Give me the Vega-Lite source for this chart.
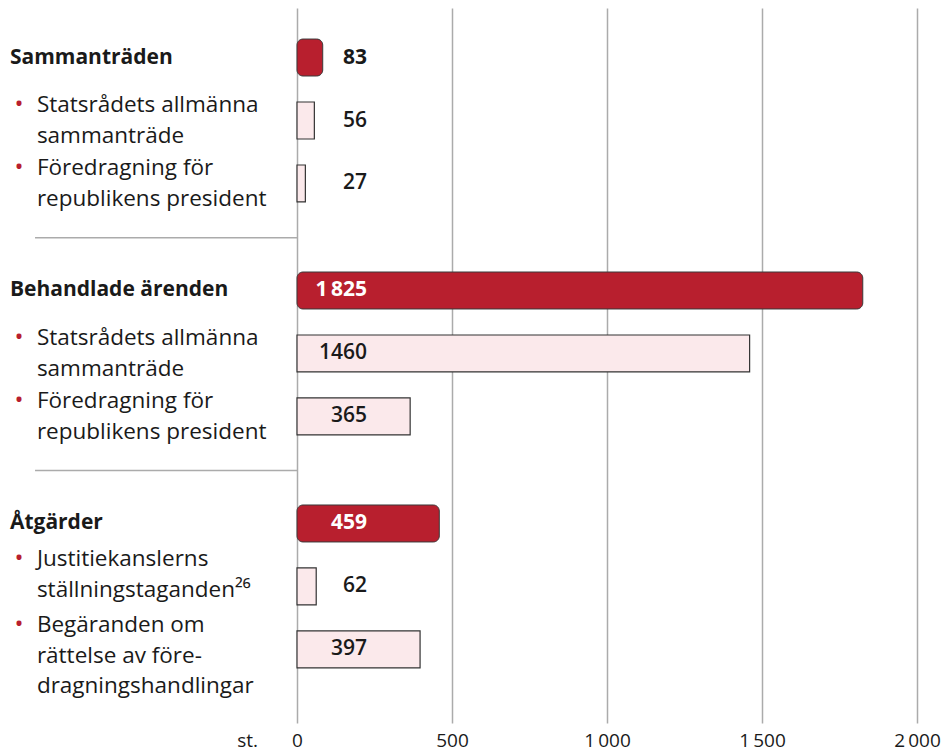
{
  "$schema": "https://vega.github.io/schema/vega-lite/v6.json",
  "width": 944,
  "height": 715,
  "autosize": {"type": "none"},
  "padding": {"left": 0, "top": 8, "right": 0, "bottom": 33},
  "background": "white",
  "config": {
    "view": {"stroke": null},
    "font": "Open Sans",
    "locale": {"number": {"decimal": ",", "thousands": "\u2009", "grouping": [3], "currency": ["", ""]}}
  },
  "data": {
    "values": [
      {"group": "Sammanträden", "row": "total", "label": ["Sammanträden"], "value": 83},
      {"group": "Sammanträden", "row": "sub1", "label": ["Statsrådets allmänna", "sammanträde"], "value": 56},
      {"group": "Sammanträden", "row": "sub2", "label": ["Föredragning för", "republikens president"], "value": 27},
      {"group": "Behandlade ärenden", "row": "total", "label": ["Behandlade ärenden"], "value": 1825},
      {"group": "Behandlade ärenden", "row": "sub1", "label": ["Statsrådets allmänna", "sammanträde"], "value": 1460},
      {"group": "Behandlade ärenden", "row": "sub2", "label": ["Föredragning för", "republikens president"], "value": 365},
      {"group": "Åtgärder", "row": "total", "label": ["Åtgärder"], "value": 459},
      {"group": "Åtgärder", "row": "sub1", "label": ["Justitiekanslerns", "ställningstaganden²⁶"], "value": 62},
      {"group": "Åtgärder", "row": "sub2", "label": ["Begäranden om", "rättelse av före-", "dragningshandlingar"], "value": 397}
    ]
  },
  "encoding": {
    "x": {
      "field": "value",
      "type": "quantitative",
      "stack": null,
      "scale": {"domain": [-958, 2087], "nice": false, "zero": false},
      "axis": {
        "values": [-161, 0, 500, 1000, 1500, 2000],
        "format": ",d",
        "labelExpr": "datum.value < 0 ? 'st.' : datum.label",
        "grid": true,
        "gridColor": "#ababab",
        "gridWidth": 1.5,
        "gridOpacity": {"condition": {"test": "datum.value < 0", "value": 0}, "value": 1},
        "domain": false,
        "ticks": false,
        "labelFontSize": 19,
        "labelColor": "#1a1a1a",
        "labelPadding": 8,
        "labelFlush": false,
        "labelOverlap": false,
        "title": null
      }
    },
    "y": {
      "field": "group",
      "type": "nominal",
      "scale": {"domain": ["Sammanträden", "Behandlade ärenden", "Åtgärder"], "paddingInner": 0.189, "paddingOuter": 0.129, "align": 0.3},
      "axis": null
    }
  },
  "layer": [
    {
      "transform": [{"filter": "datum.row == 'total'"}],
      "mark": {"type": "bar", "orient": "horizontal", "color": "#b81f2e", "stroke": "#3a3a3a", "strokeWidth": 1, "cornerRadiusEnd": 6},
      "encoding": {
        "x2": {"datum": 0},
        "yOffset": {"field": "row", "type": "nominal", "scale": {"domain": ["total", "sub1", "sub2"], "paddingInner": 0.413, "paddingOuter": 0.2065}}
      }
    },
    {
      "transform": [{"filter": "datum.row != 'total'"}],
      "mark": {"type": "bar", "orient": "horizontal", "color": "#fbe9eb", "stroke": "#333333", "strokeWidth": 1.2},
      "encoding": {
        "x2": {"datum": 0},
        "yOffset": {"field": "row", "type": "nominal"}
      }
    },
    {
      "transform": [{"filter": "datum.row == 'total' && datum.group != 'Åtgärder'"}],
      "mark": {"type": "rule", "color": "#ababab", "strokeWidth": 1.5},
      "encoding": {
        "x": {"datum": -845, "type": "quantitative"},
        "x2": {"datum": 0},
        "y": {"field": "group", "type": "nominal", "bandPosition": 1.12}
      }
    },
    {
      "transform": [{"filter": "datum.row == 'total'"}],
      "mark": {"type": "text", "align": "right", "baseline": "middle", "fontSize": 21, "fontWeight": "bold"},
      "encoding": {
        "x": {"datum": 226, "type": "quantitative"},
        "yOffset": {"field": "row", "type": "nominal"},
        "text": {"field": "value", "type": "quantitative", "format": ",d"},
        "color": {"condition": {"test": "datum.value > 226", "value": "white"}, "value": "#1a1a1a"}
      }
    },
    {
      "transform": [{"filter": "datum.row != 'total'"}],
      "mark": {"type": "text", "align": "right", "baseline": "middle", "fontSize": 21, "fontWeight": 600, "color": "#1a1a1a"},
      "encoding": {
        "x": {"datum": 226, "type": "quantitative"},
        "yOffset": {"field": "row", "type": "nominal"},
        "text": {"field": "value", "type": "quantitative", "format": "d"}
      }
    },
    {
      "transform": [{"filter": "datum.row == 'total'"}],
      "mark": {"type": "text", "align": "left", "baseline": "middle", "fontSize": 21, "fontWeight": "bold", "color": "#1a1a1a"},
      "encoding": {
        "x": {"datum": -926, "type": "quantitative"},
        "yOffset": {"field": "row", "type": "nominal"},
        "text": {"field": "label"}
      }
    },
    {
      "transform": [{"filter": "datum.row != 'total' && datum.group != 'Åtgärder'"}],
      "mark": {"type": "text", "align": "left", "baseline": "middle", "fontSize": 22.5, "fontWeight": 500, "lineHeight": 30.5, "dy": -15.25, "color": "#1a1a1a"},
      "encoding": {
        "x": {"datum": -839, "type": "quantitative"},
        "yOffset": {"field": "row", "type": "nominal"},
        "text": {"field": "label"}
      }
    },
    {
      "transform": [{"filter": "datum.row == 'sub1' && datum.group == 'Åtgärder'"}],
      "mark": {"type": "text", "align": "left", "baseline": "middle", "fontSize": 22.5, "fontWeight": 500, "lineHeight": 30.5, "dy": -27, "color": "#1a1a1a"},
      "encoding": {
        "x": {"datum": -839, "type": "quantitative"},
        "yOffset": {"field": "row", "type": "nominal"},
        "text": {"field": "label"}
      }
    },
    {
      "transform": [{"filter": "datum.row == 'sub2' && datum.group == 'Åtgärder'"}],
      "mark": {"type": "text", "align": "left", "baseline": "middle", "fontSize": 22.5, "fontWeight": 500, "lineHeight": 30.5, "dy": -24, "color": "#1a1a1a"},
      "encoding": {
        "x": {"datum": -839, "type": "quantitative"},
        "yOffset": {"field": "row", "type": "nominal"},
        "text": {"field": "label"}
      }
    },
    {
      "transform": [{"filter": "datum.row != 'total' && datum.group != 'Åtgärder'"}],
      "mark": {"type": "text", "align": "center", "baseline": "middle", "fontSize": 24, "dy": -15.25, "color": "#b81f2e", "text": "•"},
      "encoding": {
        "x": {"datum": -897, "type": "quantitative"},
        "yOffset": {"field": "row", "type": "nominal"}
      }
    },
    {
      "transform": [{"filter": "datum.row == 'sub1' && datum.group == 'Åtgärder'"}],
      "mark": {"type": "text", "align": "center", "baseline": "middle", "fontSize": 24, "dy": -27, "color": "#b81f2e", "text": "•"},
      "encoding": {
        "x": {"datum": -897, "type": "quantitative"},
        "yOffset": {"field": "row", "type": "nominal"}
      }
    },
    {
      "transform": [{"filter": "datum.row == 'sub2' && datum.group == 'Åtgärder'"}],
      "mark": {"type": "text", "align": "center", "baseline": "middle", "fontSize": 24, "dy": -24, "color": "#b81f2e", "text": "•"},
      "encoding": {
        "x": {"datum": -897, "type": "quantitative"},
        "yOffset": {"field": "row", "type": "nominal"}
      }
    }
  ]
}
